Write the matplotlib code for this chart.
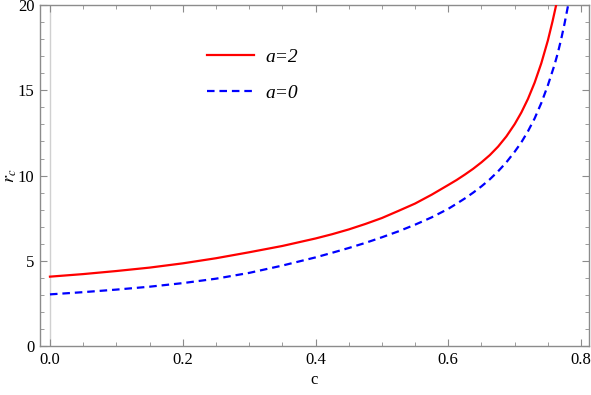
import matplotlib
matplotlib.use('Agg')
import matplotlib.pyplot as plt
from matplotlib.ticker import MultipleLocator

plt.rcParams['font.family'] = 'serif'
plt.rcParams['font.serif'] = ['Liberation Serif', 'Times New Roman',
                              'DejaVu Serif']
plt.rcParams['mathtext.fontset'] = 'stix'

# values
C_A2 = [0.00, 0.05, 0.10, 0.15, 0.20, 0.25, 0.30, 0.35, 0.40, 0.425,
        0.45, 0.475, 0.50, 0.525, 0.55, 0.575, 0.60, 0.6125, 0.625,
        0.6375, 0.65, 0.6625, 0.675, 0.6875, 0.70, 0.71, 0.72, 0.73,
        0.74, 0.75, 0.757, 0.763]
R_A2 = [4.07, 4.22, 4.40, 4.60, 4.85, 5.15, 5.50, 5.87, 6.31, 6.56,
        6.84, 7.16, 7.51, 7.93, 8.36, 8.88, 9.45, 9.74, 10.06,
        10.40, 10.78, 11.20, 11.70, 12.30, 13.02, 13.70, 14.50, 15.45,
        16.58, 17.93, 19.05, 20.1]

C_A0 = [0.00, 0.05, 0.10, 0.15, 0.20, 0.25, 0.30, 0.35, 0.40, 0.425,
        0.45, 0.475, 0.50, 0.525, 0.55, 0.575, 0.60, 0.6125, 0.625,
        0.6375, 0.65, 0.6625, 0.675, 0.6875, 0.70, 0.71, 0.72, 0.73,
        0.74, 0.75, 0.76, 0.765, 0.77, 0.775, 0.781]
R_A0 = [3.03, 3.16, 3.31, 3.48, 3.69, 3.95, 4.29, 4.72, 5.20, 5.47,
        5.75, 6.05, 6.38, 6.73, 7.12, 7.55, 8.05, 8.35, 8.66,
        9.00, 9.37, 9.78, 10.25, 10.78, 11.40, 11.95, 12.60, 13.35,
        14.25, 15.30, 16.50, 17.20, 18.00, 18.90, 20.1]

LABELS = ['a=2', 'a=0']
X_TICKS = [0.0, 0.2, 0.4, 0.6, 0.8]
Y_TICKS = [0, 5, 10, 15, 20]

FRAME = '#8c8c8c'

fig = plt.figure(figsize=(5.91, 3.95), dpi=100)
ax = fig.add_axes([0.0677, 0.124, 0.929, 0.863])

ax.axvline(0, color='#d0d0d0', lw=1.0, zorder=1)
ax.plot(C_A2, R_A2, color='#ff0000', lw=1.6, label=LABELS[0], zorder=3)
ax.plot(C_A0, R_A0, color='#0000ff', lw=1.6, dashes=(3.4, 2.2),
        label=LABELS[1], zorder=3)

ax.set_xlim(-0.015, 0.812)
ax.set_ylim(0, 20)
ax.set_xticks(X_TICKS)
ax.set_xticklabels([f'{v:.1f}' for v in X_TICKS])
ax.set_yticks(Y_TICKS)
ax.xaxis.set_minor_locator(MultipleLocator(0.05))
ax.yaxis.set_minor_locator(MultipleLocator(1))

for s in ax.spines.values():
    s.set_color(FRAME)
    s.set_linewidth(1.0)
ax.tick_params(which='both', direction='in', top=True, right=True,
               color=FRAME, labelsize=12, labelcolor='black')
ax.tick_params(which='major', length=5, width=0.8, pad=4)
ax.tick_params(which='minor', length=3, width=0.6)

ax.set_xlabel('c', fontsize=12, labelpad=3)
ax.set_ylabel('$r_c$', fontsize=13)
ax.yaxis.set_label_coords(-0.038, 0.5)

leg = ax.legend(loc='upper left', bbox_to_anchor=(0.272, 0.925),
                frameon=False, handlelength=2.4, handletextpad=0.6,
                labelspacing=0.95,
                prop={'family': 'serif', 'style': 'italic', 'size': 14})

fig.savefig('out.png', dpi=100)
